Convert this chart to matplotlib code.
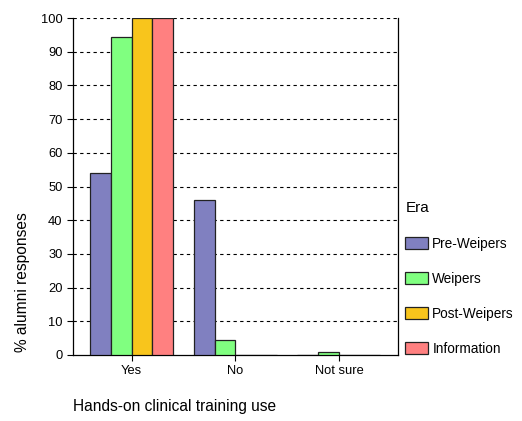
import numpy as np
import matplotlib
matplotlib.use('Agg')
from matplotlib import pyplot as plt

plt.rcParams['font.family'] = ['Liberation Sans', 'DejaVu Sans']

categories = ['Yes', 'No', 'Not sure']
eras = ['Pre-Weipers', 'Weipers', 'Post-Weipers', 'Information']
pre_weipers = [54, 46, 0]
weipers = [94.5, 4.5, 1]
post_weipers = [100, 0, 0]
information = [100, 0, 0]
colors = ['#8080c0', '#80ff80', '#f8c51c', '#ff8080']

fig = plt.figure(figsize=(5.22, 4.21), dpi=100)
ax = fig.add_axes([0.1398, 0.1568, 0.6217, 0.8002])

x = np.arange(len(categories))
w = 0.2
series = [pre_weipers, weipers, post_weipers, information]
for i, (vals, c, name) in enumerate(zip(series, colors, eras)):
    ax.bar(x + (i - 1.5) * w, vals, w, color=c, edgecolor='#222222',
           linewidth=0.9, label=name, zorder=3)

ax.set_xlim(-0.565, 2.565)
ax.set_ylim(0, 100)
ax.set_yticks(range(0, 101, 10))
ax.set_xticks(x)
ax.set_xticklabels(categories)
ax.tick_params(labelsize=9.3, length=4, width=0.8, colors='black')
for yv in range(10, 101, 10):
    ax.axhline(yv, color='black', linestyle=(0, (3, 3)), linewidth=0.8, zorder=1)
ax.spines['top'].set_visible(False)
for s in ['left', 'right', 'bottom']:
    ax.spines[s].set_linewidth(0.9)

ax.set_ylabel('% alumni responses', fontsize=11.2, loc='bottom')
ax.yaxis.set_label_coords(-0.131, 0.008)
fig.text(73 / 522, 1 - 407 / 421, 'Hands-on clinical training use',
         fontsize=11.2, ha='left', va='center')

leg = fig.legend(loc='upper left', bbox_to_anchor=(400 / 522, 1 - 196 / 421),
                 frameon=False, title='Era', fontsize=9.8, title_fontsize=11,
                 handlelength=1.67, handleheight=0.98, labelspacing=1.55,
                 handletextpad=0.3, borderaxespad=0, alignment='left')

fig.savefig('out.png', dpi=100)
